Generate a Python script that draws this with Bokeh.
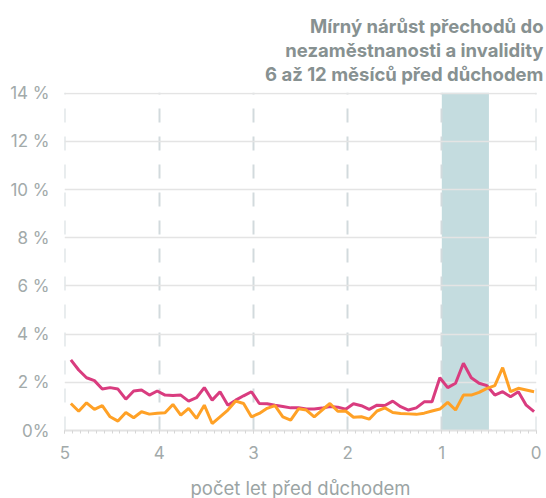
from bokeh.plotting import figure
from bokeh.models import Range1d, SingleIntervalTicker, FixedTicker, BoxAnnotation, Title
from bokeh.embed import file_html
from bokeh.resources import INLINE

# ---- data ----
months_before = list(range(59, -1, -1))  # monthly points, 59 ... 0 months before retirement
pink_values = [2.93, 2.51, 2.19, 2.07, 1.72, 1.78, 1.72, 1.30, 1.64, 1.68,
               1.47, 1.64, 1.47, 1.45, 1.47, 1.22, 1.36, 1.78, 1.26, 1.61,
               1.05, 1.26, 1.44, 1.61, 1.12, 1.11, 1.05, 1.00, 0.94, 0.94,
               0.89, 0.89, 0.93, 1.00, 0.97, 0.88, 1.11, 1.03, 0.88, 1.05,
               1.04, 1.22, 0.99, 0.85, 0.94, 1.19, 1.19, 2.19, 1.78, 1.96,
               2.79, 2.19, 1.96, 1.86, 1.47, 1.61, 1.40, 1.61, 1.05, 0.78]
orange_values = [1.12, 0.80, 1.15, 0.88, 1.03, 0.57, 0.39, 0.75, 0.53, 0.78,
                 0.68, 0.72, 0.74, 1.08, 0.64, 0.92, 0.50, 1.05, 0.29, 0.57,
                 0.85, 1.22, 1.12, 0.57, 0.71, 0.92, 1.03, 0.57, 0.43, 0.90,
                 0.85, 0.57, 0.85, 1.12, 0.80, 0.81, 0.55, 0.57, 0.47, 0.81,
                 0.94, 0.75, 0.71, 0.69, 0.67, 0.72, 0.81, 0.89, 1.17, 0.85,
                 1.47, 1.47, 1.58, 1.75, 1.86, 2.61, 1.61, 1.75, 1.68, 1.61]
band_months = [12, 6]
y_ticks = [0, 2, 4, 6, 8, 10, 12, 14]
y_tick_labels = ["0%", "2 %", "4 %", "6 %", "8 %", "10 %", "12 %", "14 %"]
title_lines = ["Mírný nárůst přechodů do",
               "nezaměstnanosti a invalidity",
               "6 až 12 měsíců před důchodem"]
x_axis_title = "počet let před důchodem"

years = [(m + 0.25) / 12 for m in months_before]

FONT = "Inter"
PINK = "#d93c7f"
ORANGE = "#ffa126"
BAND = "#c4dcdf"

p = figure(frame_width=472, frame_height=338,
           min_border_left=64, min_border_right=8,
           min_border_top=92, min_border_bottom=67,
           x_range=Range1d(5.005, -0.005), y_range=Range1d(0, 14.03),
           output_backend="svg", toolbar_location=None,
           background_fill_color="white", border_fill_color="white")
p.outline_line_color = None
p.title = None

band = BoxAnnotation(left=band_months[1] / 12, right=band_months[0] / 12,
                     fill_color=BAND, fill_alpha=1.0, line_color=None, level="image")
p.add_layout(band)

p.line(years, pink_values, line_color=PINK, line_width=3)
p.line(years, orange_values, line_color=ORANGE, line_width=3)

# x axis
xt = SingleIntervalTicker(interval=1, num_minor_ticks=12)
p.xaxis.ticker = xt
p.xgrid.ticker = xt
p.xgrid.grid_line_color = "#d2dadd"
p.xgrid.grid_line_width = 2
p.xgrid.grid_line_dash = "14 14"
p.xaxis.axis_line_color = "#e2e2e2"
p.xaxis.axis_line_width = 2
p.xaxis.major_tick_line_color = "#d6d6d6"
p.xaxis.minor_tick_line_color = "#d6d6d6"
p.xaxis.major_tick_in = 0
p.xaxis.major_tick_out = 3
p.xaxis.minor_tick_in = 0
p.xaxis.minor_tick_out = 3
p.xaxis.major_label_text_font = FONT
p.xaxis.major_label_text_font_size = "17px"
p.xaxis.major_label_text_color = "#a2aaaa"
p.xaxis.major_label_standoff = 12
p.xaxis.axis_label = x_axis_title
p.xaxis.axis_label_text_font = FONT
p.xaxis.axis_label_text_font_style = "normal"
p.xaxis.axis_label_text_font_size = "18.5px"
p.xaxis.axis_label_text_color = "#9ba4a4"
p.xaxis.axis_label_standoff = 15

# y axis
yt = FixedTicker(ticks=y_ticks)
p.yaxis.ticker = yt
p.ygrid.ticker = yt
p.yaxis.major_label_overrides = {t: lab for t, lab in zip(y_ticks, y_tick_labels)}
p.ygrid.grid_line_color = "#e4e4e4"
p.ygrid.grid_line_width = 1.5
p.yaxis.axis_line_color = None
p.yaxis.major_tick_line_color = None
p.yaxis.minor_tick_line_color = None
p.yaxis.major_label_text_font = FONT
p.yaxis.major_label_text_font_size = "17px"
p.yaxis.major_label_text_color = "#a2aaaa"
p.yaxis.major_label_standoff = 9

# blank spacer directly above the frame, then the title lines stacked upward
p.add_layout(Title(text=" ", text_font_size="5px", standoff=0), "above")
for line in reversed(title_lines):
    p.add_layout(Title(text=line, align="right", text_font=FONT,
                       text_font_size="18.5px", text_font_style="bold",
                       offset=-7, text_color="#879191", standoff=0), "above")

open("out.html", "w").write(file_html(p, INLINE))
